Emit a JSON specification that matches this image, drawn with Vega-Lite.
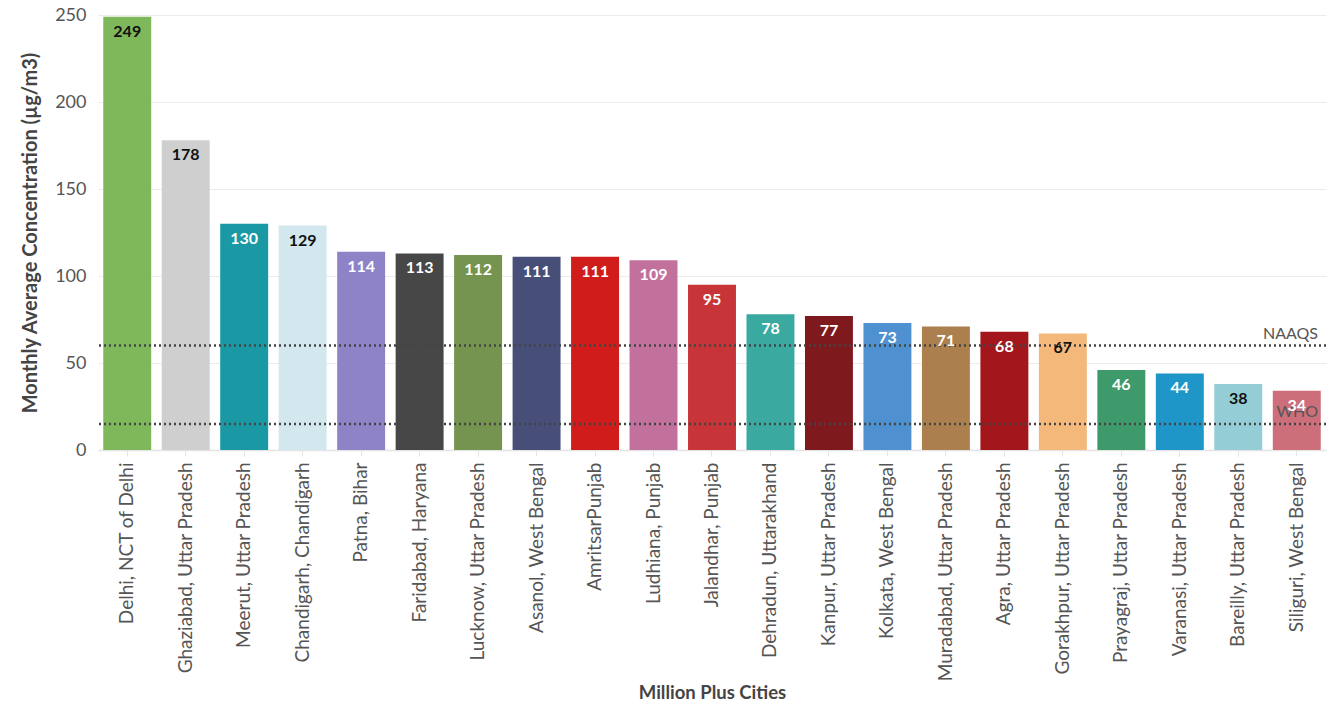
{
  "$schema": "https://vega.github.io/schema/vega-lite/v6.json",
  "width": 1228,
  "height": 435,
  "autosize": "none",
  "padding": {"left": 98, "top": 15, "right": 4, "bottom": 255},
  "background": "white",
  "config": {
    "font": "Lato",
    "view": {"stroke": null}
  },
  "datasets": {
    "cities": [
      {"city": "Delhi, NCT of Delhi", "value": 249},
      {"city": "Ghaziabad, Uttar Pradesh", "value": 178},
      {"city": "Meerut, Uttar Pradesh", "value": 130},
      {"city": "Chandigarh, Chandigarh", "value": 129},
      {"city": "Patna, Bihar", "value": 114},
      {"city": "Faridabad, Haryana", "value": 113},
      {"city": "Lucknow, Uttar Pradesh", "value": 112},
      {"city": "Asanol, West Bengal", "value": 111},
      {"city": "AmritsarPunjab", "value": 111},
      {"city": "Ludhiana, Punjab", "value": 109},
      {"city": "Jalandhar, Punjab", "value": 95},
      {"city": "Dehradun, Uttarakhand", "value": 78},
      {"city": "Kanpur, Uttar Pradesh", "value": 77},
      {"city": "Kolkata, West Bengal", "value": 73},
      {"city": "Muradabad, Uttar Pradesh", "value": 71},
      {"city": "Agra, Uttar Pradesh", "value": 68},
      {"city": "Gorakhpur, Uttar Pradesh", "value": 67},
      {"city": "Prayagraj, Uttar Pradesh", "value": 46},
      {"city": "Varanasi, Uttar Pradesh", "value": 44},
      {"city": "Bareilly, Uttar Pradesh", "value": 38},
      {"city": "Siliguri, West Bengal", "value": 34}
    ],
    "limits": [
      {"name": "NAAQS", "value": 60},
      {"name": "WHO", "value": 15}
    ]
  },
  "layer": [
    {
      "data": {"name": "cities"},
      "mark": {"type": "bar"},
      "encoding": {
        "x": {
          "field": "city",
          "type": "nominal",
          "sort": null,
          "scale": {"paddingInner": 0.18, "paddingOuter": 0.09},
          "axis": {
            "title": "Million Plus Cities",
            "titleFont": "Lato",
            "titleFontSize": 18.5,
            "titleFontWeight": "bold",
            "titleColor": "#444444",
            "titlePadding": 33,
            "labelAngle": -90,
            "labelFontSize": 19,
            "labelLimit": 400,
            "labelColor": "#555555",
            "labelPadding": 6,
            "tickColor": "#e4e4e4",
            "tickSize": 6,
            "domainColor": "#e4e4e4",
            "domainWidth": 1.5
          }
        },
        "y": {
          "field": "value",
          "type": "quantitative",
          "scale": {"domain": [0, 250], "nice": false},
          "axis": {
            "title": "Monthly Average Concentration (µg/m3)",
            "titleFontSize": 20,
            "titleFontWeight": "bold",
            "titleColor": "#444444",
            "titlePadding": 14,
            "values": [0, 50, 100, 150, 200, 250],
            "labelFontSize": 18,
            "labelColor": "#555555",
            "labelPadding": 12,
            "ticks": false,
            "domain": false,
            "gridColor": "#ececec",
            "gridWidth": 1
          }
        },
        "color": {
          "field": "city",
          "type": "nominal",
          "legend": null,
          "scale": {
            "domain": ["Delhi, NCT of Delhi", "Ghaziabad, Uttar Pradesh", "Meerut, Uttar Pradesh", "Chandigarh, Chandigarh", "Patna, Bihar", "Faridabad, Haryana", "Lucknow, Uttar Pradesh", "Asanol, West Bengal", "AmritsarPunjab", "Ludhiana, Punjab", "Jalandhar, Punjab", "Dehradun, Uttarakhand", "Kanpur, Uttar Pradesh", "Kolkata, West Bengal", "Muradabad, Uttar Pradesh", "Agra, Uttar Pradesh", "Gorakhpur, Uttar Pradesh", "Prayagraj, Uttar Pradesh", "Varanasi, Uttar Pradesh", "Bareilly, Uttar Pradesh", "Siliguri, West Bengal"],
            "range": ["#7fb85a", "#cfcfcf", "#1a99a5", "#d2e8ee", "#8d83c6", "#474747", "#74944f", "#474f79", "#d11c1c", "#c2719d", "#c73538", "#3aaaa0", "#7e1a1e", "#4f91d0", "#ab7f4e", "#a3161b", "#f5b87b", "#3f9a6b", "#1e97c8", "#94cdd6", "#cc6f7b"]
          }
        }
      }
    },
    {
      "data": {"name": "limits"},
      "mark": {"type": "rule", "strokeDash": [2, 3], "strokeWidth": 2.5, "color": "#444444"},
      "encoding": {
        "y": {"field": "value", "type": "quantitative"}
      }
    },
    {
      "data": {"name": "limits"},
      "mark": {"type": "text", "align": "right", "baseline": "bottom", "dy": -4, "dx": -8, "fontSize": 16, "color": "#555555"},
      "encoding": {
        "x": {"value": "width"},
        "y": {"field": "value", "type": "quantitative"},
        "text": {"field": "name"}
      }
    },
    {
      "data": {"name": "cities"},
      "mark": {"type": "text", "baseline": "top", "dy": 7, "fontSize": 16, "fontWeight": "bold"},
      "encoding": {
        "x": {"field": "city", "type": "nominal", "sort": null},
        "y": {"field": "value", "type": "quantitative"},
        "text": {"field": "value", "type": "quantitative"},
        "color": {
          "condition": {
            "test": "indexof(['Delhi, NCT of Delhi','Ghaziabad, Uttar Pradesh','Chandigarh, Chandigarh','Gorakhpur, Uttar Pradesh','Bareilly, Uttar Pradesh'], datum.city) >= 0",
            "value": "#111111"
          },
          "value": "#ffffff"
        }
      }
    }
  ]
}
